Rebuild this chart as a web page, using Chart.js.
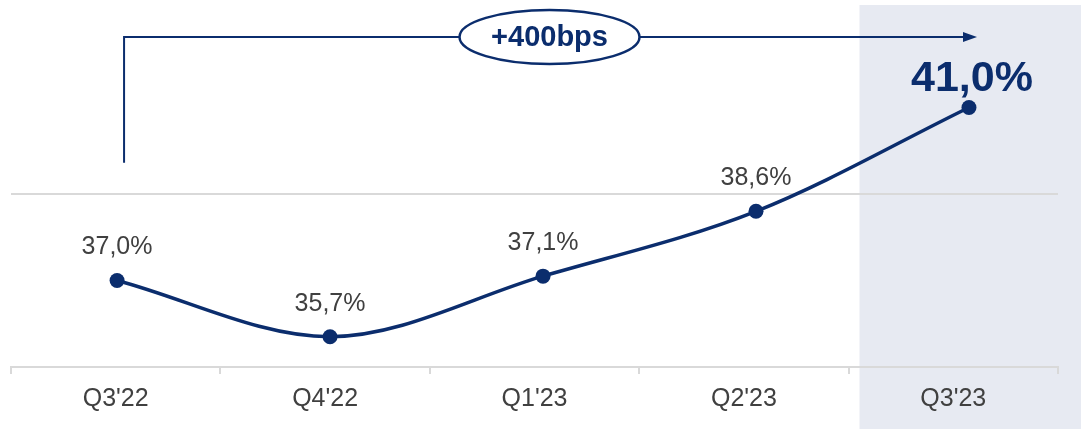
<!DOCTYPE html>
<html>
<head>
<meta charset="utf-8">
<script src="https://cdn.jsdelivr.net/npm/chart.js@4"></script>
<style>
  html, body { margin: 0; padding: 0; background: #ffffff; }
  #wrap { width: 1081px; height: 429px; position: relative; }
</style>
</head>
<body>
<div id="wrap"><canvas id="marginChart"></canvas></div>
<script>
const quarters = ["Q3'22", "Q4'22", "Q1'23", "Q2'23", "Q3'23"];
const marginValues = [37.0, 35.7, 37.1, 38.6, 41.0];
const marginLabels = ["37,0%", "35,7%", "37,1%", "38,6%", "41,0%"];
const changeLabel = "+400bps";

const NAVY = '#0b2d6d';
const GREY_TEXT = '#404040';
const RULE = '#d9d9d9';

Chart.defaults.font.family = "'Liberation Sans', Arial, sans-serif";

// shaded column behind the latest quarter
const highlightBand = {
    id: 'highlightBand',
    beforeDraw(chart) {
        const ctx = chart.ctx;
        const xp = chart.scales.xp;
        const left = xp.getPixelForValue(3.5) - 3;
        ctx.save();
        ctx.fillStyle = '#e7eaf2';
        ctx.fillRect(left, 5, chart.width - left, chart.height - 5);
        ctx.restore();
    }
};

// value labels above each point
const pointLabels = {
    id: 'pointLabels',
    afterDatasetsDraw(chart) {
        const ctx = chart.ctx;
        const pts = chart.getDatasetMeta(0).data;
        ctx.save();
        ctx.textAlign = 'center';
        ctx.textBaseline = 'middle';
        pts.forEach((p, i) => {
            if (i === pts.length - 1) {
                ctx.font = "bold 43px 'Liberation Sans', Arial, sans-serif";
                ctx.fillStyle = NAVY;
                ctx.fillText(marginLabels[i], p.x + 3, p.y - 28);
            } else {
                ctx.font = "25px 'Liberation Sans', Arial, sans-serif";
                ctx.fillStyle = GREY_TEXT;
                ctx.fillText(marginLabels[i], p.x, p.y - 33);
            }
        });
        ctx.restore();
    }
};

// bracket with arrow and the "+400bps" bubble
const changeBracket = {
    id: 'changeBracket',
    afterDraw(chart) {
        const ctx = chart.ctx;
        const pts = chart.getDatasetMeta(0).data;
        const y = chart.scales.y;
        const x0 = pts[0].x + 7;
        const x1 = pts[pts.length - 1].x + 8;
        const top = y.getPixelForValue(42.63);
        const bottom = y.getPixelForValue(39.72);

        ctx.save();
        ctx.strokeStyle = NAVY;
        ctx.lineWidth = 2;
        ctx.beginPath();
        ctx.moveTo(x0, bottom);
        ctx.lineTo(x0, top);
        ctx.lineTo(x1 - 12, top);
        ctx.stroke();

        ctx.fillStyle = NAVY;
        ctx.beginPath();
        ctx.moveTo(x1, top);
        ctx.lineTo(x1 - 14, top - 5);
        ctx.lineTo(x1 - 14, top + 5);
        ctx.closePath();
        ctx.fill();

        const cx = (x0 + x1) / 2 - 1;
        ctx.beginPath();
        ctx.ellipse(cx, top, 90, 27, 0, 0, Math.PI * 2);
        ctx.fillStyle = '#ffffff';
        ctx.fill();
        ctx.lineWidth = 2.5;
        ctx.stroke();

        ctx.fillStyle = NAVY;
        ctx.font = "bold 29px 'Liberation Sans', Arial, sans-serif";
        ctx.textAlign = 'center';
        ctx.textBaseline = 'middle';
        ctx.fillText(changeLabel, cx, top + 1);
        ctx.restore();
    }
};

new Chart("marginChart", {
    type: 'line',
    data: {
        labels: quarters,
        datasets: [{
            label: 'Margin',
            data: marginValues.map((v, i) => ({ x: i, y: v })),
            xAxisID: 'xp',
            borderColor: NAVY,
            backgroundColor: NAVY,
            borderWidth: 3.5,
            cubicInterpolationMode: 'monotone',
            pointRadius: 7.5,
            pointHoverRadius: 7.5,
            pointBorderWidth: 0,
            clip: false
        }]
    },
    plugins: [highlightBand, pointLabels, changeBracket],
    options: {
        responsive: true,
        maintainAspectRatio: false,
        animation: false,
        layout: { padding: { left: 11, right: 23, top: 21, bottom: 5 } },
        plugins: {
            legend: { display: false },
            tooltip: { enabled: false }
        },
        scales: {
            x: {
                type: 'category',
                offset: true,
                grid: {
                    offset: true,
                    drawOnChartArea: false,
                    color: RULE,
                    lineWidth: 2,
                    tickLength: 7
                },
                border: { color: RULE, width: 2 },
                ticks: {
                    color: GREY_TEXT,
                    font: { size: 25 },
                    padding: 10,
                    maxRotation: 0
                }
            },
            xp: {
                type: 'linear',
                display: false,
                min: -0.498,   // points sit slightly wider than the category labels
                max: 4.418
            },
            y: {
                min: 35,
                max: 43,
                ticks: { display: false, stepSize: 4 },
                border: { display: false },
                grid: {
                    drawTicks: false,
                    lineWidth: 2,
                    color: (c) => c.tick && c.tick.value === 39 ? RULE : 'rgba(0,0,0,0)'
                }
            }
        }
    }
});
</script>
</body>
</html>
